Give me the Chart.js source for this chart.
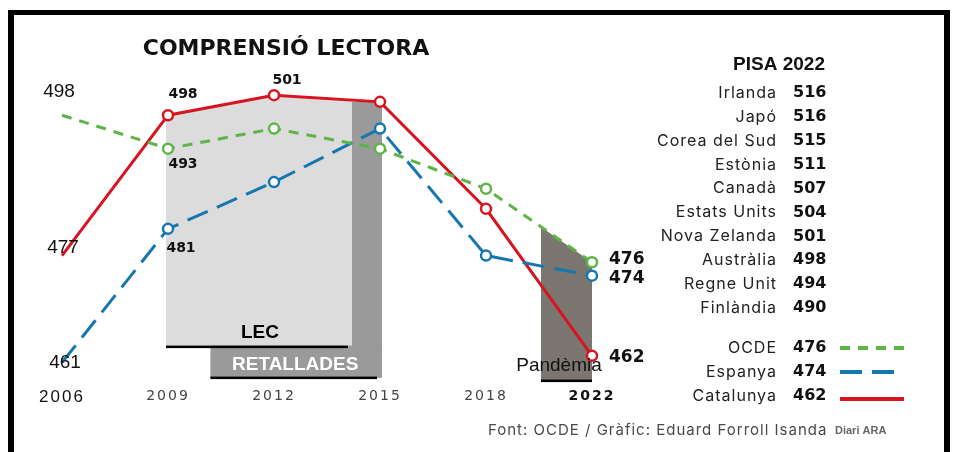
<!DOCTYPE html>
<html>
<head>
<meta charset="utf-8">
<script src="https://cdn.jsdelivr.net/npm/chart.js@4.4.1/dist/chart.umd.min.js"></script>
<style>
  html, body { margin: 0; padding: 0; background: #fff; }
  #wrap { position: relative; width: 955px; height: 452px; }
</style>
</head>
<body>
<div id="wrap"><canvas id="chart" width="955" height="452"></canvas></div>
<script>
// PISA lectura - dades
const years = ['2006', '2009', '2012', '2015', '2018', '2022'];
const ocde = [498, 493, 496, 493, 487, 476];
const espanya = [461, 481, 488, 496, 477, 474];
const catalunya = [477, 498, 501, 500, 484, 462];

const pisaCountries = ['Irlanda', 'Japó', 'Corea del Sud', 'Estònia', 'Canadà', 'Estats Units', 'Nova Zelanda', 'Austràlia', 'Regne Unit', 'Finlàndia'];
const pisaScores = [516, 516, 515, 511, 507, 504, 501, 498, 494, 490];

const RED = '#d7141f', GREEN = '#5db548', BLUE = '#1677b0';

const extras = {
  id: 'extras',
  beforeDraw(chart) {
    // lletres de l'eix x una mica espaiades
    chart.ctx.letterSpacing = '2px';
  },
  beforeDatasetsDraw(chart) {
    const ctx = chart.ctx;
    ctx.letterSpacing = '0px';
    const x = chart.scales.x, y = chart.scales.y;
    const b = chart.chartArea.bottom;
    const lecBottom = b - 36, retBottom = b - 5;
    const x09 = x.getPixelForValue(1), x12 = x.getPixelForValue(2), x15 = x.getPixelForValue(3);
    const cut = x15 - 28;
    ctx.save();
    // LEC (area sota Catalunya)
    const t = (cut - x12) / (x15 - x12);
    const yCut = y.getPixelForValue(catalunya[2]) + t * (y.getPixelForValue(catalunya[3]) - y.getPixelForValue(catalunya[2]));
    ctx.fillStyle = '#dcdcdc';
    ctx.beginPath();
    ctx.moveTo(x09 - 2, y.getPixelForValue(catalunya[1]));
    ctx.lineTo(x12, y.getPixelForValue(catalunya[2]));
    ctx.lineTo(cut, yCut);
    ctx.lineTo(cut, lecBottom);
    ctx.lineTo(x09 - 2, lecBottom);
    ctx.closePath();
    ctx.fill();
    // retallades
    const retLeft = x09 + 0.4 * (x12 - x09);
    ctx.fillStyle = '#9a9a9a';
    ctx.fillRect(cut, y.getPixelForValue(catalunya[3]), x15 + 2 - cut, retBottom - y.getPixelForValue(catalunya[3]));
    ctx.fillRect(retLeft, lecBottom - 1, x15 + 2 - retLeft, retBottom - lecBottom + 1);
    ctx.fillStyle = '#000';
    ctx.fillRect(x09 - 2, lecBottom - 1, cut - 4 - (x09 - 2), 2.5);
    ctx.fillRect(retLeft, retBottom - 1, x15 - 3 - retLeft, 2.5);
    ctx.textAlign = 'center';
    ctx.textBaseline = 'middle';
    ctx.font = 'bold 19px "Liberation Sans"';
    ctx.fillText('LEC', (x09 + cut) / 2, lecBottom - 14);
    ctx.fillStyle = '#fff';
    ctx.fillText('RETALLADES', (retLeft + x15) / 2, (lecBottom + retBottom) / 2 + 3);
    // pandèmia
    const x18 = x.getPixelForValue(4), x22 = x.getPixelForValue(5);
    const pl = x22 - 51;
    const s = (pl - x18) / (x22 - x18);
    const yPl = y.getPixelForValue(ocde[4]) + s * (y.getPixelForValue(ocde[5]) - y.getPixelForValue(ocde[4]));
    ctx.fillStyle = '#7b766f';
    ctx.beginPath();
    ctx.moveTo(pl, yPl);
    ctx.lineTo(x22, y.getPixelForValue(ocde[5]));
    ctx.lineTo(x22, b - 2);
    ctx.lineTo(pl, b - 2);
    ctx.closePath();
    ctx.fill();
    ctx.fillStyle = '#000';
    ctx.fillRect(pl, b - 3, x22 - pl, 2.5);
    ctx.restore();
  },
  afterDraw(chart) {
    const ctx = chart.ctx;
    const x = chart.scales.x, y = chart.scales.y;
    const b = chart.chartArea.bottom;
    ctx.save();
    ctx.letterSpacing = '0px';
    ctx.textBaseline = 'middle';
    ctx.fillStyle = '#111';

    // etiquetes de punts
    ctx.textAlign = 'center';
    ctx.font = 'bold 14px "DejaVu Sans"';
    ctx.fillText(String(catalunya[1]), x.getPixelForValue(1) + 15, y.getPixelForValue(catalunya[1]) - 21);
    ctx.fillText(String(catalunya[2]), x.getPixelForValue(2) + 13, y.getPixelForValue(catalunya[2]) - 15);
    ctx.fillText(String(ocde[1]), x.getPixelForValue(1) + 15, y.getPixelForValue(ocde[1]) + 16);
    ctx.fillText(String(espanya[1]), x.getPixelForValue(1) + 13, y.getPixelForValue(espanya[1]) + 20);

    // 2006
    ctx.font = '19px "Liberation Sans"';
    const x06 = x.getPixelForValue(0);
    ctx.fillText(String(ocde[0]), x06 - 3, y.getPixelForValue(ocde[0]) - 23);
    ctx.fillText(String(catalunya[0]), x06 + 1, y.getPixelForValue(catalunya[0]) - 8);
    ctx.fillText(String(espanya[0]), x06 + 3, y.getPixelForValue(espanya[0]));

    // 2022
    ctx.textAlign = 'left';
    ctx.font = 'bold 17px "DejaVu Sans"';
    const x22 = x.getPixelForValue(5);
    ctx.fillText(String(ocde[5]), x22 + 17, y.getPixelForValue(ocde[5]) - 3);
    ctx.fillText(String(espanya[5]), x22 + 17, y.getPixelForValue(espanya[5]) + 3);
    ctx.fillText(String(catalunya[5]), x22 + 17, y.getPixelForValue(catalunya[5]) + 2);

    ctx.textAlign = 'center';
    ctx.font = '19px "Liberation Sans"';
    ctx.fillText('Pandèmia', x22 - 33, b - 17);

    // títol
    ctx.font = 'bold 22px "DejaVu Sans"';
    ctx.fillText('COMPRENSIÓ LECTORA', 286, 49);

    // taula PISA 2022
    ctx.font = 'bold 19px "Liberation Sans"';
    ctx.fillText('PISA 2022', 779, 65);
    pisaCountries.forEach((c, i) => {
      const ry = 93 + i * 23.9;
      ctx.textAlign = 'right';
      ctx.font = '16px Inter';
      ctx.letterSpacing = '1px';
      ctx.fillStyle = '#222';
      ctx.fillText(c, 777, ry);
      ctx.letterSpacing = '0px';
      ctx.textAlign = 'left';
      ctx.font = 'bold 16px "DejaVu Sans"';
      ctx.fillStyle = '#111';
      ctx.fillText(String(pisaScores[i]), 793, ry);
    });

    // llegenda
    chart.data.datasets.forEach((ds, i) => {
      const ry = 348 + i * 24;
      ctx.textAlign = 'right';
      ctx.font = '16px Inter';
      ctx.letterSpacing = '1px';
      ctx.fillStyle = '#222';
      ctx.fillText(ds.label, 777, ry);
      ctx.letterSpacing = '0px';
      ctx.textAlign = 'left';
      ctx.font = 'bold 16px "DejaVu Sans"';
      ctx.fillStyle = '#111';
      ctx.fillText(String(ds.data[ds.data.length - 1]), 793, ry);
      ctx.strokeStyle = ds.borderColor;
      ctx.lineWidth = 4;
      ctx.setLineDash(ds.borderDash || []);
      ctx.beginPath();
      ctx.moveTo(840, ry + (i === 2 ? 3 : 0));
      ctx.lineTo(904, ry + (i === 2 ? 3 : 0));
      ctx.stroke();
      ctx.setLineDash([]);
    });

    // font
    ctx.textAlign = 'left';
    ctx.fillStyle = '#4a4a4a';
    ctx.font = '15px Inter';
    ctx.letterSpacing = '1px';
    ctx.fillText('Font: OCDE / Gràfic: Eduard Forroll Isanda', 488, 430);
    ctx.letterSpacing = '0px';
    ctx.fillStyle = '#666';
    ctx.font = 'bold 11px "Liberation Sans"';
    ctx.fillText('Diari ARA', 835, 431);

    // marc
    ctx.fillStyle = '#000';
    ctx.fillRect(8, 10, 942, 5);
    ctx.fillRect(8, 10, 6, 442);
    ctx.fillRect(944, 10, 6, 442);
    ctx.restore();
  }
};

const pointR = (ctx) => (ctx.dataIndex === 0 ? 0 : 5);

new Chart(document.getElementById('chart'), {
  type: 'line',
  data: {
    labels: years,
    datasets: [
      { label: 'OCDE', data: ocde, borderColor: GREEN, borderDash: [10, 8], borderWidth: 3 },
      { label: 'Espanya', data: espanya, borderColor: BLUE, borderDash: [22, 10], borderWidth: 3 },
      { label: 'Catalunya', data: catalunya, borderColor: RED, borderWidth: 3 }
    ].map(d => Object.assign(d, {
      fill: false,
      tension: 0,
      pointRadius: pointR,
      pointBackgroundColor: '#fff',
      pointBorderColor: d.borderColor,
      pointBorderWidth: 2.5
    }))
  },
  options: {
    responsive: false,
    animation: false,
    devicePixelRatio: 1,
    layout: { padding: { top: 35, left: 62, right: 363, bottom: 39 } },
    plugins: { legend: { display: false }, tooltip: { enabled: false } },
    scales: {
      y: { display: false, min: 458, max: 510 },
      x: {
        grid: { display: false, drawTicks: false },
        border: { display: false },
        ticks: {
          padding: 5,
          autoSkip: false,
          maxRotation: 0,
          color: (c) => (c.index === 0 || c.index === 5 ? '#111' : '#444'),
          font: (c) => c.index === 0 ? { family: 'Liberation Sans', size: 17 }
            : c.index === 5 ? { family: 'DejaVu Sans', size: 14, weight: 'bold' }
            : { family: 'DejaVu Sans', size: 14 }
        }
      }
    }
  },
  plugins: [extras]
});
</script>
</body>
</html>
